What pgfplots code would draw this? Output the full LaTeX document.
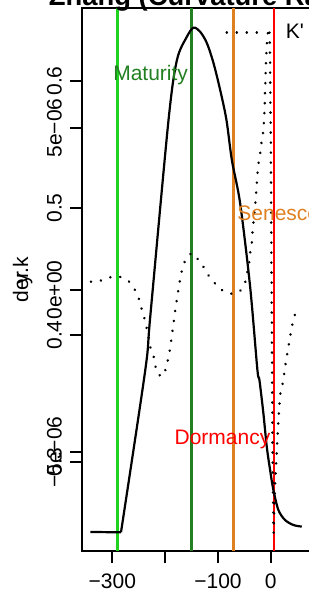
\documentclass[border=0pt]{standalone}
\usepackage{pgfplots}
\pgfplotsset{compat=1.18}
\usepackage{fontspec}
\setmainfont{Liberation Sans}
\definecolor{lgreen}{RGB}{30,210,30}
\definecolor{dgreen}{RGB}{34,128,34}
\definecolor{orng}{RGB}{223,128,32}
\begin{document}
\begin{tikzpicture}[font=\fontsize{10.5}{12}\selectfont]
\pgfplotsset{common/.style={
  at={(0,0)}, anchor=south west,
  scale only axis, width=117pt, height=271.5pt,
  xmin=-357.4, xmax=85.6, clip=false,
  tick align=outside, major tick length=6pt, tick pos=left,
  tick style={line width=1.1pt, black},
  yticklabel style={xshift=-4.15pt, rotate=90, anchor=base, inner sep=0pt},
  xticklabel style={yshift=-12.5pt, anchor=base, inner sep=0pt},
  /pgf/number format/assume math mode=true,
}}
\begin{axis}[common,
  ymin=0.2299, ymax=0.6575,
  axis line style={line width=1.1pt},
  xtick={-300,-200,-100,0}, xticklabels={−300,,−100,0},
  ytick={0.3,0.4,0.5,0.6}, yticklabels={0.3,0.4,0.5,0.6},
]
\addplot[lgreen, line width=1.1pt] coordinates {(-290.0,0.2299) (-290.0,0.6575)};
\addplot[dgreen, line width=1.1pt] coordinates {(-150.1,0.2299) (-150.1,0.6575)};
\addplot[orng, line width=1.1pt] coordinates {(-70.7,0.2299) (-70.7,0.6575)};
\addplot[red, line width=1.1pt] coordinates {(6.2,0.2299) (6.2,0.6575)};
\addplot[black, line width=1.1pt] coordinates {(-341.6,0.2449) (-283.6,0.2446)};
\addplot[black, line width=1.1pt, smooth, tension=0.5] coordinates {
(-283.6,0.2446) (-237.6,0.3724) (-228.2,0.4144) (-193.6,0.5693) (-177.7,0.6165)
(-158.8,0.6349) (-146.3,0.6420) (-133.7,0.6388) (-121.0,0.6299) (-108.5,0.6142)
(-95.8,0.5929) (-83.9,0.5693) (-73.7,0.5378) (-58.0,0.5037) (-39.1,0.4380)
(-25.3,0.3724) (-21.5,0.3646) (-14.0,0.3383) (-7.6,0.3120) (-1.3,0.2937)
(4.9,0.2780) (14.4,0.2622) (27.0,0.2543) (42.7,0.2504) (58.6,0.2491)};
\end{axis}
\begin{axis}[common,
  ymin=-8.0556e-6, ymax=8.7037e-6,
  axis line style={draw=none},
  xtick=\empty, scaled y ticks=false,
  ytick={-5e-6,0,5e-6}, yticklabels={−5e−06,0e+00,5e−06},
  legend style={draw=none, fill=none, at={(0.611,0.955)}, anchor=west, inner sep=0pt, nodes={inner sep=0pt, anchor=west}, column sep=12.5pt},
  legend image code/.code={\draw[#1] (0pt,0pt) -- (16.5pt,0pt);},
]
\addplot[black, line width=1.3pt, line cap=round, dash pattern=on 0.1pt off 4.9pt] coordinates {
(-340.6,2.56e-7) (-322.7,2.87e-7) (-303.8,3.92e-7) (-286.2,4.10e-7) (-269.2,2.78e-7)
(-257.8,2.2e-8) (-250.3,-2.38e-7) (-245.2,-5.46e-7) (-239.5,-8.55e-7) (-235.7,-1.133e-6)
(-231.4,-1.441e-6) (-228.2,-1.759e-6) (-221.9,-2.037e-6) (-218.7,-2.346e-6) (-212.5,-2.623e-6)
(-203.0,-2.654e-6) (-197.9,-2.377e-6) (-193.6,-2.068e-6) (-190.4,-1.790e-6) (-187.9,-1.481e-6)
(-185.3,-1.173e-6) (-182.8,-8.64e-7) (-180.3,-5.56e-7) (-177.7,-2.78e-7) (-174.7,3.1e-8)
(-171.5,3.40e-7) (-167.7,6.48e-7) (-162.0,9.26e-7) (-150.1,1.142e-6) (-136.1,9.26e-7)
(-126.1,6.79e-7) (-116.1,4.01e-7) (-104.7,1.85e-7) (-90.7,-3.1e-8) (-72.6,-1.23e-7)
(-58.0,-3.1e-8) (-48.6,2.16e-7) (-41.0,8.33e-7) (-39.1,1.142e-6) (-35.9,1.451e-6)
(-34.8,1.759e-6) (-32.9,2.068e-6) (-31.0,2.377e-6) (-29.1,2.685e-6) (-27.8,2.963e-6)
(-26.5,3.272e-6) (-25.3,3.580e-6) (-23.4,3.889e-6) (-20.2,4.198e-6) (-18.3,4.475e-6)
(-15.1,4.784e-6) (-13.2,5.093e-6) (-11.7,5.556e-6) (-10.8,6.173e-6) (-8.9,7.099e-6)
(-7.0,7.716e-6) (-4.5,8.086e-6) (-2.3,7.932e-6) (-1.3,7.099e-6) (-0.8,5.864e-6)
(0.0,4.722e-6) (1.1,1.235e-6) (2.5,-2.469e-6) (3.4,-5.247e-6) (5.3,-7.500e-6)
(6.8,-6.636e-6) (8.1,-6.019e-6) (10.0,-5.401e-6) (11.9,-4.784e-6) (14.4,-4.012e-6)
(16.3,-3.549e-6) (18.5,-3.148e-6) (22.7,-2.870e-6) (25.1,-2.623e-6) (27.0,-2.377e-6)
(30.2,-2.068e-6) (33.3,-1.759e-6) (36.5,-1.451e-6) (39.7,-1.142e-6) (44.0,-8.64e-7)
(49.1,-5.56e-7)};
\addlegendentry{K\textquotesingle}
\end{axis}
\node[anchor=base, inner sep=0pt, font=\bfseries\fontsize{13.7}{15}\selectfont] at (59.6pt,273pt) {Zhang (Curvature Rate)};
\node[rotate=90, anchor=base] at (-27pt,135.75pt) {der.k};
\node[rotate=90, anchor=base] at (-27pt,135.75pt) {y};
\node[dgreen, anchor=base, inner sep=0pt] at (34.3pt,235.5pt) {Maturity};
\node[orng, anchor=base west, inner sep=0pt] at (77.5pt,165.2pt) {Senescence};
\node[red, anchor=base, inner sep=0pt] at (70.25pt,53.5pt) {Dormancy};
\pgfresetboundingbox
\path[use as bounding box] (-41pt,-20pt) rectangle (113.5pt,275.5pt);
\end{tikzpicture}
\end{document}
